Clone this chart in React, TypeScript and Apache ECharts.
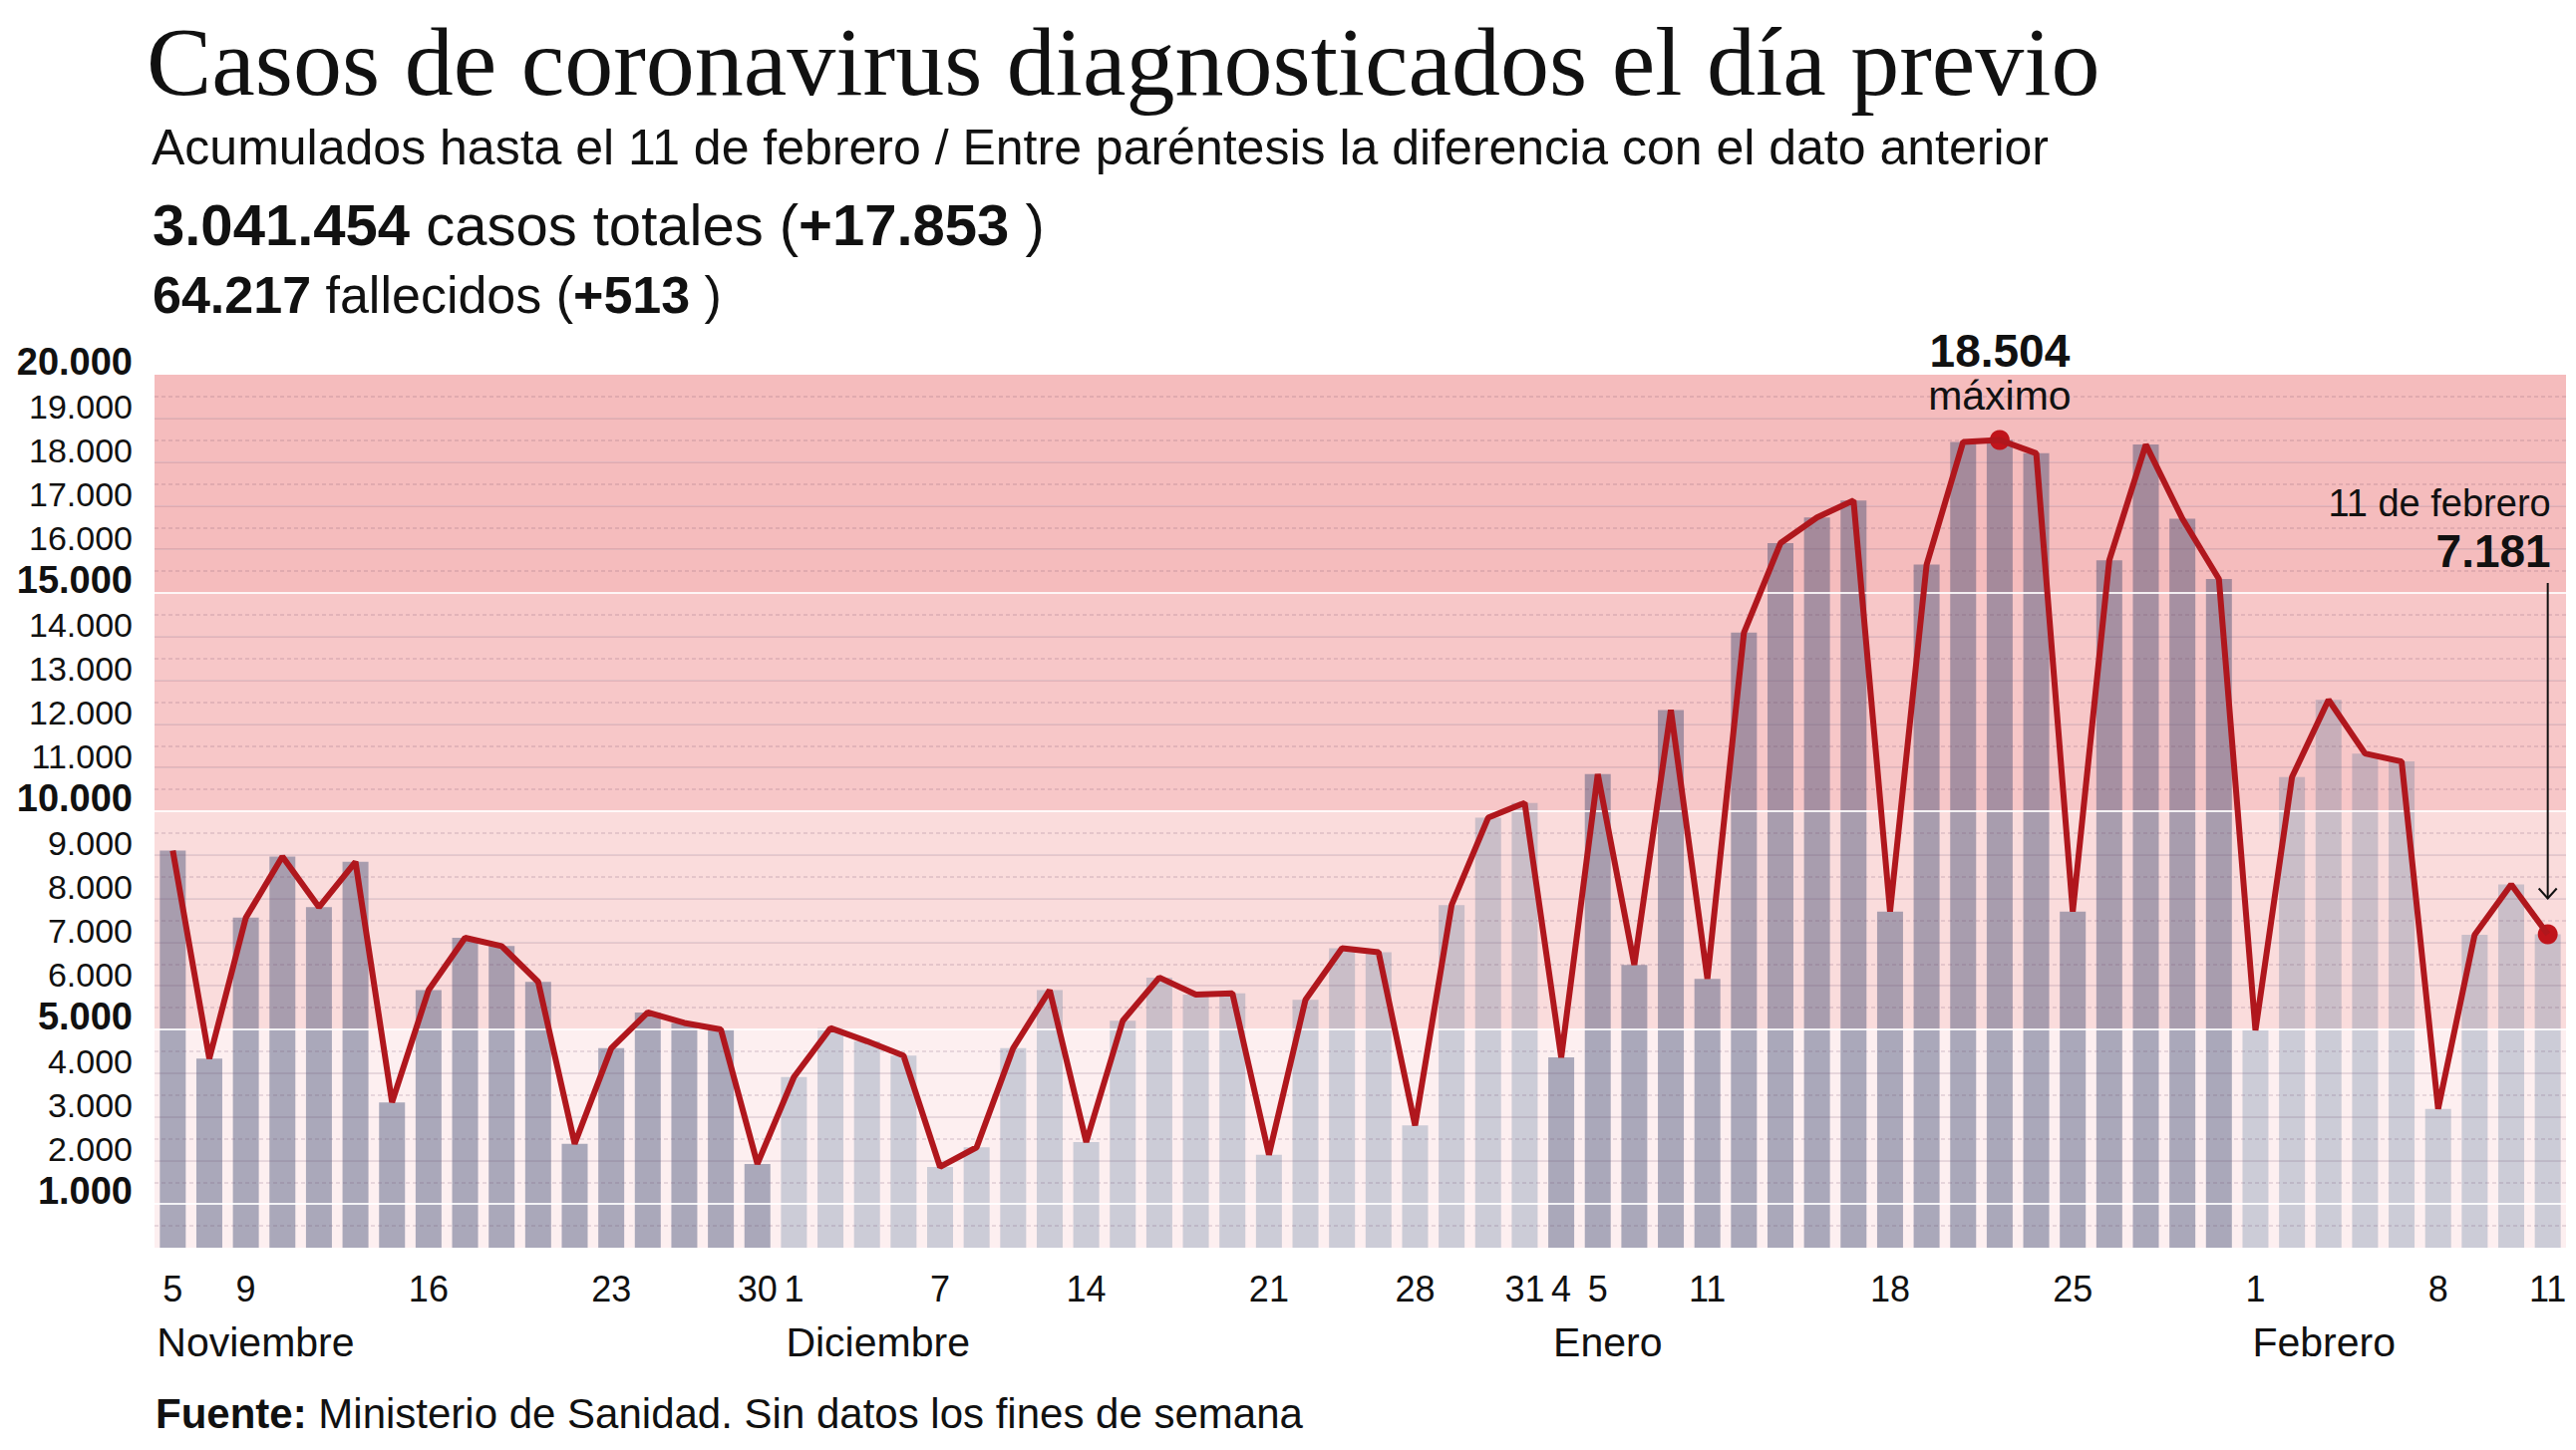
import React, { useEffect, useRef } from 'react';
import * as echarts from 'echarts';

// ---- data ----
const dates = [
  '2020-11-05', '2020-11-06', '2020-11-09', '2020-11-10', '2020-11-11', '2020-11-12', '2020-11-13',
  '2020-11-16', '2020-11-17', '2020-11-18', '2020-11-19', '2020-11-20', '2020-11-23', '2020-11-24',
  '2020-11-25', '2020-11-26', '2020-11-30',
  '2020-12-01', '2020-12-02', '2020-12-03', '2020-12-04', '2020-12-07', '2020-12-09', '2020-12-10',
  '2020-12-11', '2020-12-14', '2020-12-15', '2020-12-16', '2020-12-17', '2020-12-18', '2020-12-21',
  '2020-12-22', '2020-12-23', '2020-12-24', '2020-12-28', '2020-12-29', '2020-12-30', '2020-12-31',
  '2021-01-04', '2021-01-05', '2021-01-07', '2021-01-08', '2021-01-11', '2021-01-12', '2021-01-13',
  '2021-01-14', '2021-01-15', '2021-01-18', '2021-01-19', '2021-01-20', '2021-01-21', '2021-01-22',
  '2021-01-25', '2021-01-26', '2021-01-27', '2021-01-28', '2021-01-29',
  '2021-02-01', '2021-02-02', '2021-02-03', '2021-02-04', '2021-02-05', '2021-02-08', '2021-02-09',
  '2021-02-10', '2021-02-11',
];

const cases = [
  9100, 4330, 7560, 8960, 7800, 8840, 3330, 5900, 7100, 6910, 6090, 2380, 4570, 5390, 5150, 5000, 1920,
  3910, 5030, 4730, 4400, 1850, 2300, 4570, 5900, 2420, 5200, 6190, 5800, 5830, 2130, 5680, 6860, 6770,
  2800, 7850, 9850, 10190,
  4360, 10850, 6480, 12320, 6160, 14090, 16140, 16730, 17120, 7700, 15650, 18460, 18504, 18200, 7700,
  15750, 18400, 16700, 15320,
  4980, 10780, 12550, 11320, 11140, 3180, 7170, 8320, 7181,
];

const labeledDates = [
  '2020-11-05', '2020-11-09', '2020-11-16', '2020-11-23', '2020-11-30',
  '2020-12-01', '2020-12-07', '2020-12-14', '2020-12-21', '2020-12-28', '2020-12-31',
  '2021-01-04', '2021-01-05', '2021-01-11', '2021-01-18', '2021-01-25',
  '2021-02-01', '2021-02-08', '2021-02-11',
];

const monthStarts = ['2020-11-05', '2020-12-01', '2021-01-04', '2021-02-01'];
const monthNames = ['Noviembre', 'Diciembre', 'Enero', 'Febrero'];

const yMin = 0;
const yMax = 20000;
const yInterval = 1000;
const boldTicks = [1000, 5000, 10000, 15000, 20000];
const whiteTicks = [1000, 5000, 10000, 15000];
const bandEdges = [0, 5000, 10000, 15000, 20000];
const bandColors = ['#fdeff0', '#fadcdc', '#f7c7c8', '#f5bcbd'];

const totalCases = '3.041.454';
const totalCasesDiff = '+17.853';
const totalDeaths = '64.217';
const totalDeathsDiff = '+513';

const maxIndex = cases.indexOf(Math.max(...cases));
const lastIndex = cases.length - 1;

// ---- style ----
const SANS = '"Liberation Sans", Arial, Helvetica, sans-serif';
const SERIF = '"Liberation Serif", "Times New Roman", serif';
const TXT = '#111111';
const DARK_BAR = 'rgba(45,62,105,0.40)';
const LIGHT_BAR = 'rgba(60,100,140,0.25)';
const LINE_RED = '#b0171d';
const DOT_RED = '#c0141b';

const fmt = (v: number) => String(v).replace(/\B(?=(\d{3})+(?!\d))/g, '.');

export default function App() {
  const ref = useRef<HTMLDivElement>(null);

  useEffect(() => {
    document.body.style.margin = '0';
    document.body.style.overflow = 'hidden';
    if (!ref.current) return;
    const chart = echarts.init(ref.current, undefined, { renderer: 'svg' });

    const tickValues: number[] = [];
    for (let v = yMin; v <= yMax; v += yInterval) tickValues.push(v);
    const areaColors = tickValues.slice(0, -1).map((v) => {
      let b = 0;
      for (let i = 0; i < bandEdges.length - 1; i++) if (v >= bandEdges[i]) b = i;
      return bandColors[b];
    });
    const lineColors = tickValues.map((v) =>
      v === yMin || v === yMax
        ? 'rgba(0,0,0,0)'
        : whiteTicks.includes(v)
        ? 'rgba(255,255,255,0.85)'
        : 'rgba(110,70,100,0.15)'
    );

    const barData = cases.map((v, i) => {
      const m = dates[i].slice(5, 7);
      const dark = m === '11' || m === '01';
      return { value: v, itemStyle: { color: dark ? DARK_BAR : LIGHT_BAR } };
    });

    const option: any = {
      animation: false,
      backgroundColor: '#ffffff',
      grid: { left: 155, right: 10, top: 376, bottom: 203, containLabel: false },
      xAxis: {
        type: 'category',
        data: dates,
        boundaryGap: true,
        axisLine: { show: false },
        axisTick: { show: false },
        splitLine: { show: false },
        axisLabel: {
          interval: (_i: number, val: string) => labeledDates.includes(val),
          formatter: (val: string) => String(Number(val.slice(8))),
          fontFamily: SANS,
          fontSize: 36,
          color: TXT,
          verticalAlign: 'middle',
          lineHeight: 36,
          margin: 41,
        },
      },
      yAxis: [
        {
          type: 'value',
          position: 'left',
          min: yMin,
          max: yMax,
          interval: yInterval,
          z: 0,
          axisLine: { show: false },
          axisTick: { show: false },
          axisLabel: { show: false },
          splitLine: { show: false },
          splitArea: { show: true, areaStyle: { color: areaColors, opacity: 1 } },
        },
        {
          type: 'value',
          position: 'left',
          min: yMin,
          max: yMax,
          interval: yInterval,
          z: 3,
          axisLine: { show: false },
          axisTick: { show: false },
          splitArea: { show: false },
          splitLine: { show: true, lineStyle: { color: lineColors, width: 2 } },
          minorTick: { show: false, splitNumber: 2 },
          minorSplitLine: {
            show: true,
            lineStyle: { color: 'rgba(110,70,100,0.2)', width: 1.5, type: [4, 3] },
          },
          axisLabel: {
            margin: 22,
            verticalAlign: 'bottom',
            formatter: (v: number) =>
              v === 0 ? '' : boldTicks.includes(v) ? `{b|${fmt(v)}}` : `{n|${fmt(v)}}`,
            rich: {
              b: { fontFamily: SANS, fontSize: 38, fontWeight: 'bold', lineHeight: 26, color: TXT },
              n: { fontFamily: SANS, fontSize: 34, fontWeight: 'normal', lineHeight: 23, color: TXT },
            },
          },
        },
      ],
      series: [
        {
          type: 'bar',
          data: barData,
          barWidth: 26,
          z: 2,
          yAxisIndex: 0,
        },
        {
          type: 'line',
          data: cases,
          yAxisIndex: 0,
          z: 5,
          symbol: 'none',
          lineStyle: { color: LINE_RED, width: 6 },
          itemStyle: { color: LINE_RED },
          markPoint: {
            symbol: 'circle',
            symbolSize: 20,
            itemStyle: { color: DOT_RED },
            data: [
              {
                coord: [dates[maxIndex], cases[maxIndex]],
                label: {
                  show: true,
                  position: 'top',
                  distance: 13,
                  formatter: `{a|${fmt(cases[maxIndex])}}\n{b|máximo}`,
                  rich: {
                    a: { fontFamily: SANS, fontSize: 46, fontWeight: 'bold', lineHeight: 46, color: TXT, align: 'center' },
                    b: { fontFamily: SANS, fontSize: 41, fontWeight: 'normal', lineHeight: 44, color: TXT, align: 'center' },
                  },
                },
              },
              { coord: [dates[lastIndex], cases[lastIndex]], label: { show: false } },
            ],
          },
        },
      ],
    };
    chart.setOption(option);

    const header: any[] = [
      {
        type: 'text', x: 147, y: 62, z: 10,
        style: { text: 'Casos de coronavirus diagnosticados el día previo', fontFamily: SERIF, fontSize: 98, fill: TXT, align: 'left', verticalAlign: 'middle' },
      },
      {
        type: 'text', x: 152, y: 148, z: 10,
        style: { text: 'Acumulados hasta el 11 de febrero / Entre paréntesis la diferencia con el dato anterior', fontFamily: SANS, fontSize: 50, fill: TXT, align: 'left', verticalAlign: 'middle' },
      },
      {
        type: 'text', x: 153, y: 225, z: 10,
        style: {
          text: `{b|${totalCases}}{n| casos totales (}{b|${totalCasesDiff}}{n| )}`,
          fill: TXT, align: 'left', verticalAlign: 'middle', fontFamily: SANS, fontSize: 58,
          rich: {
            b: { fontFamily: SANS, fontSize: 58, fontWeight: 'bold', fill: TXT },
            n: { fontFamily: SANS, fontSize: 58, fontWeight: 'normal', fill: TXT },
          },
        },
      },
      {
        type: 'text', x: 153, y: 296, z: 10,
        style: {
          text: `{b|${totalDeaths}}{n| fallecidos (}{b|${totalDeathsDiff}}{n| )}`,
          fill: TXT, align: 'left', verticalAlign: 'middle', fontFamily: SANS, fontSize: 52,
          rich: {
            b: { fontFamily: SANS, fontSize: 52, fontWeight: 'bold', fill: TXT },
            n: { fontFamily: SANS, fontSize: 52, fontWeight: 'normal', fill: TXT },
          },
        },
      },
      {
        type: 'text', x: 156, y: 1418, z: 10,
        style: {
          text: '{b|Fuente:}{n| Ministerio de Sanidad. Sin datos los fines de semana}',
          fill: TXT, align: 'left', verticalAlign: 'middle', fontFamily: SANS, fontSize: 42,
          rich: {
            b: { fontFamily: SANS, fontSize: 42, fontWeight: 'bold', fill: TXT },
            n: { fontFamily: SANS, fontSize: 42, fontWeight: 'normal', fill: TXT },
          },
        },
      },
    ];

    const monthShift = [-16, -8, -8, -3];
    const months = monthStarts.map((d, i) => {
      const px = chart.convertToPixel({ xAxisIndex: 0 }, d) as number;
      return {
        type: 'text', x: px + monthShift[i], y: 1347, z: 10,
        style: { text: monthNames[i], fontFamily: SANS, fontSize: 41, fill: TXT, align: 'left', verticalAlign: 'middle' },
      };
    });

    const [lx, ly] = chart.convertToPixel({ seriesIndex: 1 }, [lastIndex, cases[lastIndex]]) as number[];
    const lastAnno: any[] = [
      {
        type: 'text', x: lx + 3, y: 505, z: 10,
        style: { text: '11 de febrero', fontFamily: SANS, fontSize: 38, fill: TXT, align: 'right', verticalAlign: 'middle' },
      },
      {
        type: 'text', x: lx + 3, y: 553, z: 10,
        style: { text: fmt(cases[lastIndex]), fontFamily: SANS, fontSize: 46, fontWeight: 'bold', fill: TXT, align: 'right', verticalAlign: 'middle' },
      },
      {
        type: 'line', z: 10,
        shape: { x1: lx, y1: 585, x2: lx, y2: ly - 36 },
        style: { stroke: '#111111', lineWidth: 2 },
      },
      {
        type: 'polyline', z: 10,
        shape: { points: [[lx - 9, ly - 46], [lx, ly - 36], [lx + 9, ly - 46]] },
        style: { stroke: '#111111', lineWidth: 2, fill: 'none' },
      },
    ];

    chart.setOption({ graphic: [...header, ...months, ...lastAnno] });

    return () => chart.dispose();
  }, []);

  return <div ref={ref} style={{ width: '2584px', height: '1455px' }} />;
}
